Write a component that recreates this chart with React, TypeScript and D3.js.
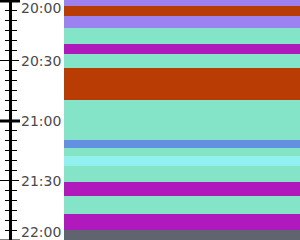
import React from "react";
import * as d3 from "d3";

const segStarts = ["19:55", "20:03", "20:08", "20:14", "20:22", "20:27", "20:34", "20:50", "21:10", "21:14", "21:18", "21:23", "21:31", "21:38", "21:47", "21:55"];
const segEnd = "22:05";
const segStates = ["S1", "S2", "S1", "S3", "S4", "S3", "S2", "S3", "S5", "S3", "S6", "S3", "S4", "S3", "S4", "S7"];
const stateNames = ["S1", "S2", "S3", "S4", "S5", "S6", "S7"];
const stateColors = ["#9b82f0", "#b83c04", "#84e4c8", "#b01abc", "#6490e2", "#92f0ee", "#60646e"];
const tickLabels = ["20:00", "20:30", "21:00", "21:30", "22:00"];

const W = 300;
const H = 240;

const parse = (s: string) => {
  const [h, m] = s.split(":").map(Number);
  return new Date(2024, 0, 1, h, m);
};

export default function App() {
  const y = d3.scaleTime().domain([parse("20:00"), parse("22:00")]).range([0, 240]);
  const color = d3.scaleOrdinal<string, string>().domain(stateNames).range(stateColors);
  const segs = segStarts.map((s, i) => ({
    start: parse(s),
    end: parse(i < segStarts.length - 1 ? segStarts[i + 1] : segEnd),
    state: segStates[i],
  }));
  const minor = d3.timeMinute.every(5)!.range(parse("19:55"), parse("22:05"));
  return (
    <svg width={W} height={H} style={{ position: "absolute", left: 0, top: 0 }}>
      {segs.map((d, i) => {
        const y0 = Math.round(y(d.start));
        const y1 = Math.round(y(d.end));
        return <rect key={i} x={64} width={W - 64} y={y0} height={y1 - y0} fill={color(d.state)} />;
      })}
      <line x1={10.5} x2={10.5} y1={0} y2={H} stroke="#000" strokeWidth={3} />
      {minor.map((t, i) => {
        const m = t.getMinutes();
        const yy = Math.round(y(t)) + 0.5;
        if (m === 0) return <line key={i} x1={0} x2={20} y1={yy + 0.5} y2={yy + 0.5} stroke="#000" strokeWidth={3} />;
        if (m === 30) return <line key={i} x1={0} x2={19} y1={yy} y2={yy} stroke="#000" strokeWidth={1} />;
        return <line key={i} x1={5} x2={17} y1={yy} y2={yy} stroke="#000" strokeWidth={1} />;
      })}
      {tickLabels.map((l, i) => {
        const ty = Math.max(7.7, Math.min(231.7, y(parse(l)) + 0.7));
        return (
          <text key={i} x={21} y={ty + 5.1} fontFamily="DejaVu Sans" fontSize={14} fill="#4a4a4a">
            {l}
          </text>
        );
      })}
    </svg>
  );
}
